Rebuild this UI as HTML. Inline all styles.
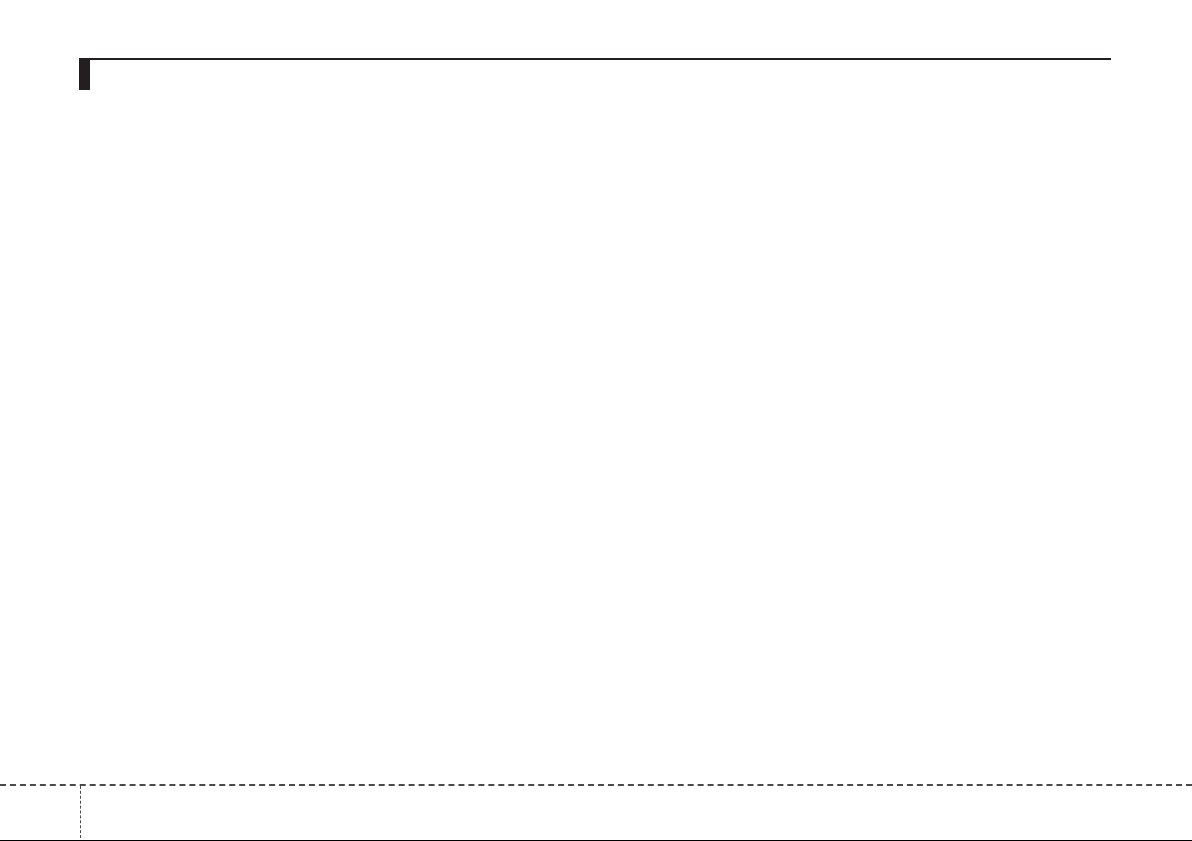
<!DOCTYPE html>
<html><head><meta charset="utf-8"><style>
html,body{margin:0;padding:0;width:1192px;height:841px;background:#fff;overflow:hidden;position:relative}
div{position:absolute}
</style></head><body>
<div style="left:79px;top:58px;width:11px;height:32px;background:#231f20"></div>
<div style="left:90px;top:58px;width:1021px;height:2px;background:#231f20"></div>
<div style="left:0;top:784px;width:1192px;height:0;border-top:2px dashed #4a4a4a"></div>
<div style="left:80px;top:786px;width:0;height:52px;border-left:1px dashed #4a4a4a"></div>
<div style="left:0;top:840px;width:1192px;height:1px;background:#000"></div>
</body></html>
